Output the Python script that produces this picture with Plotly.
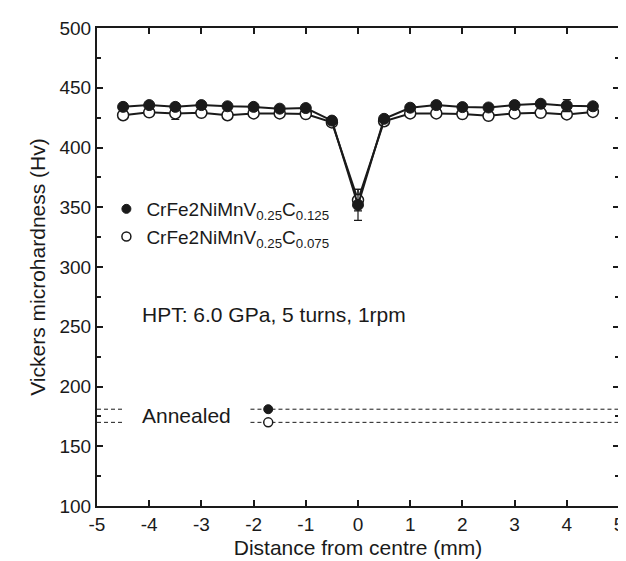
import plotly.graph_objects as go

# ---- data ----
distance = [-4.5, -4.0, -3.5, -3.0, -2.5, -2.0, -1.5, -1.0, -0.5, 0.0,
            0.5, 1.0, 1.5, 2.0, 2.5, 3.0, 3.5, 4.0, 4.5]
hv_c0125 = [434, 435.5, 434, 435.5, 434.5, 434, 432.5, 433, 422.5, 352,
            424, 433.3, 435.5, 433.8, 433.5, 435.5, 436.6, 435, 434.5]
err_c0125 = [3, 2, 3, 2, 2, 2, 2, 2, 3, 13, 2, 2, 2, 2, 2, 2, 2, 5, 2]
hv_c0075 = [427, 429.4, 428.5, 429, 427, 428.5, 428.5, 428, 421, 356,
            422, 428.5, 428.5, 428, 426.5, 428.5, 429, 427.7, 429.8]
err_c0075 = [2, 2, 5, 2, 2, 2, 2, 2, 2, 9, 2, 2, 2, 2, 2, 2, 2, 3, 2]

annealed_x = [-1.72]
annealed_c0125 = [181]
annealed_c0075 = [170]
dash_left_x = [-5.0, -4.48]
dash_right_x = [-2.06, 5.0]

x_tick_vals = [-5, -4, -3, -2, -1, 0, 1, 2, 3, 4, 5]
x_tick_text = ["-5", "-4", "-3", "-2", "-1", "0", "1", "2", "3", "4", "5"]

name_c0125 = "CrFe2NiMnV<sub>0.25</sub>C<sub>0.125</sub>"
name_c0075 = "CrFe2NiMnV<sub>0.25</sub>C<sub>0.075</sub>"

FONT = "Liberation Sans, Arial, sans-serif"
INK = "#1a1a1a"

fig = go.Figure()

# dashed annealed reference lines
for yv in (annealed_c0125[0], annealed_c0075[0]):
    for xs in (dash_left_x, dash_right_x):
        fig.add_trace(go.Scatter(x=xs, y=[yv, yv], mode="lines",
                                 line=dict(color=INK, width=1, dash="4px,3px"),
                                 showlegend=False, hoverinfo="skip"))

# open series (drawn first, underneath)
fig.add_trace(go.Scatter(
    x=distance, y=hv_c0075, mode="lines+markers",
    line=dict(color=INK, width=2),
    marker=dict(symbol="circle", size=11, color="white",
                line=dict(color=INK, width=1.5)),
    error_y=dict(type="data", array=err_c0075, color=INK, thickness=1.2, width=4),
    showlegend=False))
# filled series
fig.add_trace(go.Scatter(
    x=distance, y=hv_c0125, mode="lines+markers",
    line=dict(color=INK, width=2),
    marker=dict(symbol="circle", size=11, color=INK,
                line=dict(color=INK, width=1)),
    error_y=dict(type="data", array=err_c0125, color=INK, thickness=1.2, width=4),
    showlegend=False))

# annealed points
fig.add_trace(go.Scatter(x=annealed_x, y=annealed_c0125, mode="markers",
                         marker=dict(symbol="circle", size=9, color=INK,
                                     line=dict(color=INK, width=1)),
                         showlegend=False))
fig.add_trace(go.Scatter(x=annealed_x, y=annealed_c0075, mode="markers",
                         marker=dict(symbol="circle", size=9, color="white",
                                     line=dict(color=INK, width=1.5)),
                         showlegend=False))

# legend entries (marker only)
fig.add_trace(go.Scatter(x=[None], y=[None], mode="markers", name=name_c0125,
                         marker=dict(symbol="circle", size=9, color=INK,
                                     line=dict(color=INK, width=1))))
fig.add_trace(go.Scatter(x=[None], y=[None], mode="markers", name=name_c0075,
                         marker=dict(symbol="circle", size=9, color="white",
                                     line=dict(color=INK, width=1.5))))

fig.add_annotation(x=-4.18, y=260, text="HPT: 6.0 GPa, 5 turns, 1rpm",
                   showarrow=False, xanchor="left", yanchor="middle",
                   font=dict(size=21, color=INK, family=FONT))
fig.add_annotation(x=-4.18, y=176, text="Annealed",
                   showarrow=False, xanchor="left", yanchor="middle",
                   font=dict(size=21, color=INK, family=FONT))

axis_common = dict(showline=True, linecolor=INK, linewidth=2, mirror="ticks",
                   ticks="inside", ticklen=6, tickwidth=1.5, tickcolor=INK,
                   showgrid=False, zeroline=False,
                   tickfont=dict(size=19, color=INK, family=FONT))

fig.update_layout(
    width=626, height=561,
    margin=dict(l=89, r=10, t=15, b=63),
    paper_bgcolor="white", plot_bgcolor="white",
    font=dict(family=FONT, color=INK),
    xaxis=dict(range=[-5, 5], tickmode="array",
               tickvals=x_tick_vals, ticktext=x_tick_text,
               title=dict(text="Distance from centre (mm)", standoff=7,
                          font=dict(size=21, color=INK, family=FONT)),
               **axis_common),
    yaxis=dict(range=[100, 500], dtick=50, tick0=100,
               minor=dict(dtick=25, ticks="inside", ticklen=4, tickcolor=INK, tickwidth=1.5),
               title=dict(text="Vickers microhardness (Hv)", standoff=8,
                          font=dict(size=21, color=INK, family=FONT)),
               **axis_common),
    legend=dict(x=0.018, y=0.592, xanchor="left", yanchor="middle",
                bgcolor="rgba(0,0,0,0)", borderwidth=0,
                font=dict(size=19, color=INK, family=FONT),
                itemwidth=30, tracegroupgap=0),
)

fig.write_html("out.html")
